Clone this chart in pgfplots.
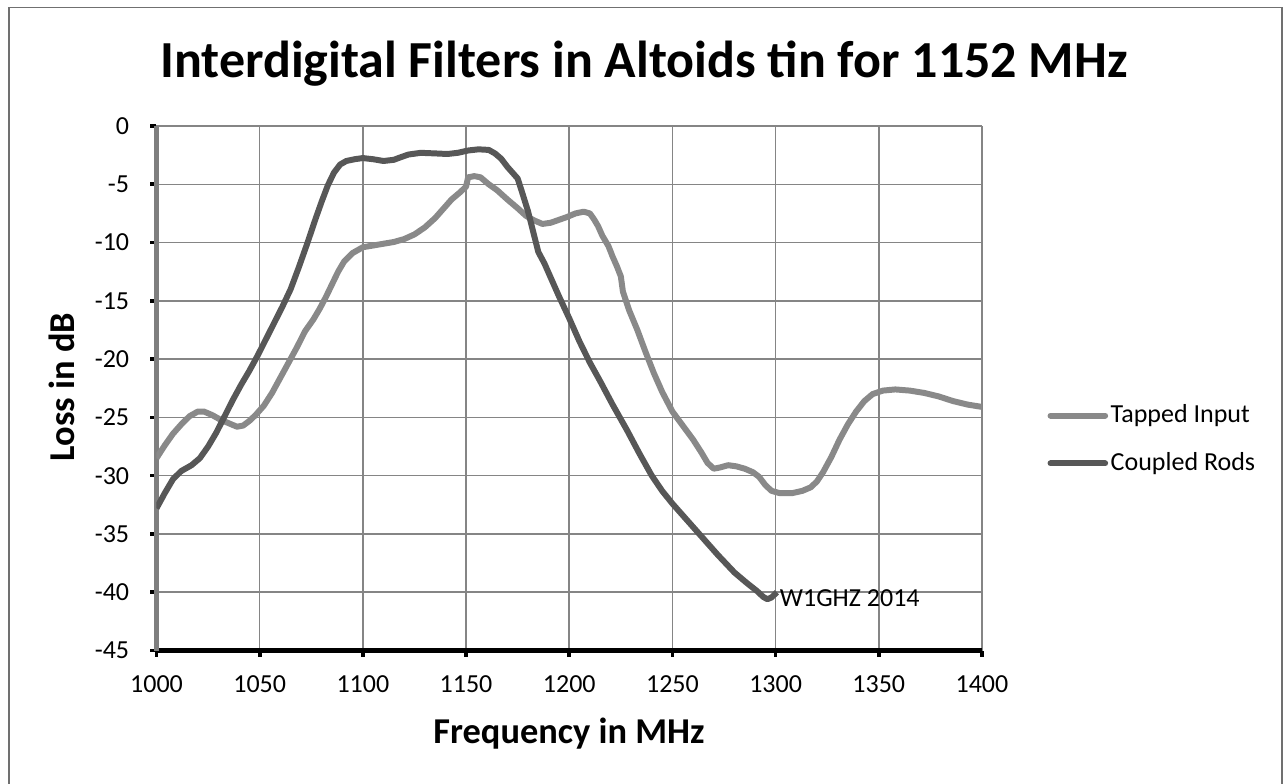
\documentclass[border=0pt]{standalone}
\usepackage{pgfplots}
\pgfplotsset{compat=1.18}
\usepackage{pgfplotstable}
\usepackage{fontspec}
\setmainfont{Carlito}
\definecolor{tapped}{HTML}{898989}
\definecolor{coupled}{HTML}{575757}
\definecolor{gridgray}{HTML}{858585}
\definecolor{axgray}{HTML}{7F7F7F}
\definecolor{border}{HTML}{707070}

\pgfplotstableread{
f v
1000 -28.5
1004 -27.4
1008 -26.4
1012 -25.6
1016 -24.9
1020 -24.5
1023 -24.5
1027 -24.8
1031 -25.2
1035 -25.5
1039 -25.8
1042 -25.7
1045 -25.3
1048 -24.8
1052 -24.0
1056 -22.9
1060 -21.6
1064 -20.3
1068 -19.0
1072 -17.6
1076 -16.6
1079 -15.7
1082 -14.7
1085 -13.6
1088 -12.5
1091 -11.6
1095 -10.9
1100 -10.4
1105 -10.25
1110 -10.1
1115 -9.95
1120 -9.7
1125 -9.3
1130 -8.7
1135 -7.9
1139 -7.1
1143 -6.3
1147 -5.7
1150 -5.2
1151 -4.4
1154 -4.3
1157 -4.4
1161 -5.0
1165 -5.5
1170 -6.3
1175 -7.05
1179 -7.7
1183 -8.1
1187 -8.4
1191 -8.3
1195 -8.05
1199 -7.8
1203 -7.5
1207 -7.35
1210 -7.5
1212 -8.0
1214 -8.6
1216 -9.4
1219 -10.3
1221 -11.2
1223 -12.0
1225 -12.9
1226 -14.2
1229 -15.8
1233 -17.5
1237 -19.4
1241 -21.2
1245 -22.8
1250 -24.5
1255 -25.7
1260 -26.9
1264 -28.0
1267 -28.9
1270 -29.4
1273 -29.3
1277 -29.1
1281 -29.2
1285 -29.4
1289 -29.7
1292 -30.1
1295 -30.8
1298 -31.3
1302 -31.5
1308 -31.5
1313 -31.3
1317 -31.0
1320 -30.5
1323 -29.7
1327 -28.4
1331 -26.9
1335 -25.6
1339 -24.5
1343 -23.6
1347 -23.0
1352 -22.7
1358 -22.6
1365 -22.7
1372 -22.9
1379 -23.2
1386 -23.6
1393 -23.9
1400 -24.1
}\tapped

\pgfplotstableread{
f v
1000 -32.8
1004 -31.5
1008 -30.3
1012 -29.6
1017 -29.1
1021 -28.5
1025 -27.5
1029 -26.3
1033 -24.9
1037 -23.5
1041 -22.2
1045 -21.0
1049 -19.7
1053 -18.3
1057 -16.9
1061 -15.5
1065 -14.0
1069 -12.1
1073 -10.1
1077 -8.0
1080 -6.5
1083 -5.1
1086 -4.0
1089 -3.3
1092 -3.0
1096 -2.85
1100 -2.75
1105 -2.85
1110 -3.0
1115 -2.9
1118 -2.7
1122 -2.45
1128 -2.3
1135 -2.35
1141 -2.4
1146 -2.3
1151 -2.1
1156 -2.0
1161 -2.05
1164 -2.35
1167 -2.8
1170 -3.5
1173 -4.1
1175 -4.5
1177 -5.6
1180 -7.3
1183 -9.4
1185 -10.8
1188 -11.8
1191 -13.0
1195 -14.6
1200 -16.5
1205 -18.5
1210 -20.3
1215 -21.9
1221 -23.9
1228 -26.1
1234 -28.1
1240 -30.0
1245 -31.3
1250 -32.4
1257 -33.8
1264 -35.2
1272 -36.8
1280 -38.3
1286 -39.2
1291 -39.9
1294 -40.4
1296 -40.6
1298 -40.45
1300.6 -40.0
}\coupled

\def\u{0.3846pt}

\begin{document}
\begin{tikzpicture}
\useasboundingbox (0,0) rectangle (1283*\u,783*\u);
\draw[border, line width=0.7pt] (9*\u,-20*\u) -- (9*\u,775.5*\u) -- (1282*\u,775.5*\u) -- (1282*\u,-20*\u);
\begin{axis}[
  at={(156.5*\u,132.5*\u)}, anchor=south west,
  width=825.5*\u, height=524.5*\u, scale only axis,
  xmin=1000, xmax=1400, ymin=-45, ymax=0,
  xtick={1000,1050,...,1400}, ytick={-45,-40,...,0},
  grid=major, major grid style={color=gridgray, line width=0.6pt},
  axis x line*=bottom, axis y line*=left,
  x axis line style={black, line width=2.1pt},
  y axis line style={axgray, line width=2pt},
  tick align=outside, major tick length=2.4pt,
  tick style={black, line width=1.4pt},
  /pgf/number format/assume math mode=true,
  x tick label style={/pgf/number format/1000 sep={}, yshift=-3.85pt},
  y tick label style={xshift=-4.6pt},
  ticklabel style={font=\fontsize{10}{12}\selectfont},
  legend style={at={(axis description cs:1.0788,0.4023)}, anchor=west,
    draw=none, fill=none, inner sep=0pt, row sep=8pt,
    font=\fontsize{10}{12}\selectfont,
    nodes={inner sep=1pt}},
  legend cell align=left,
  legend image code/.code={\draw[#1, line cap=round] (0pt,0pt) -- (21pt,0pt);},
]
\addplot[tapped, line width=2.3pt, line join=round] table[x=f, y=v] {\tapped};
\addlegendentry{Tapped Input}
\addplot[coupled, line width=2.3pt, line join=round] table[x=f, y=v] {\coupled};
\addlegendentry{Coupled Rods}
\node[anchor=west, font=\fontsize{10}{12}\selectfont, inner sep=1pt] at (axis cs:1300.6,-40.5) {W1GHZ 2014};
\end{axis}
\node[anchor=base, inner sep=0pt, font=\bfseries\fontsize{20}{24}\selectfont] at (644*\u,706*\u) {Interdigital Filters in Altoids tin for 1152 MHz};
\node[anchor=base, inner sep=0pt, font=\bfseries\fontsize{14}{17}\selectfont] at (569*\u,40*\u) {Frequency in MHz};
\node[anchor=base, inner sep=0pt, rotate=90, font=\bfseries\fontsize{14}{17}\selectfont] at (75*\u,396*\u) {Loss in dB};
\end{tikzpicture}
\end{document}
